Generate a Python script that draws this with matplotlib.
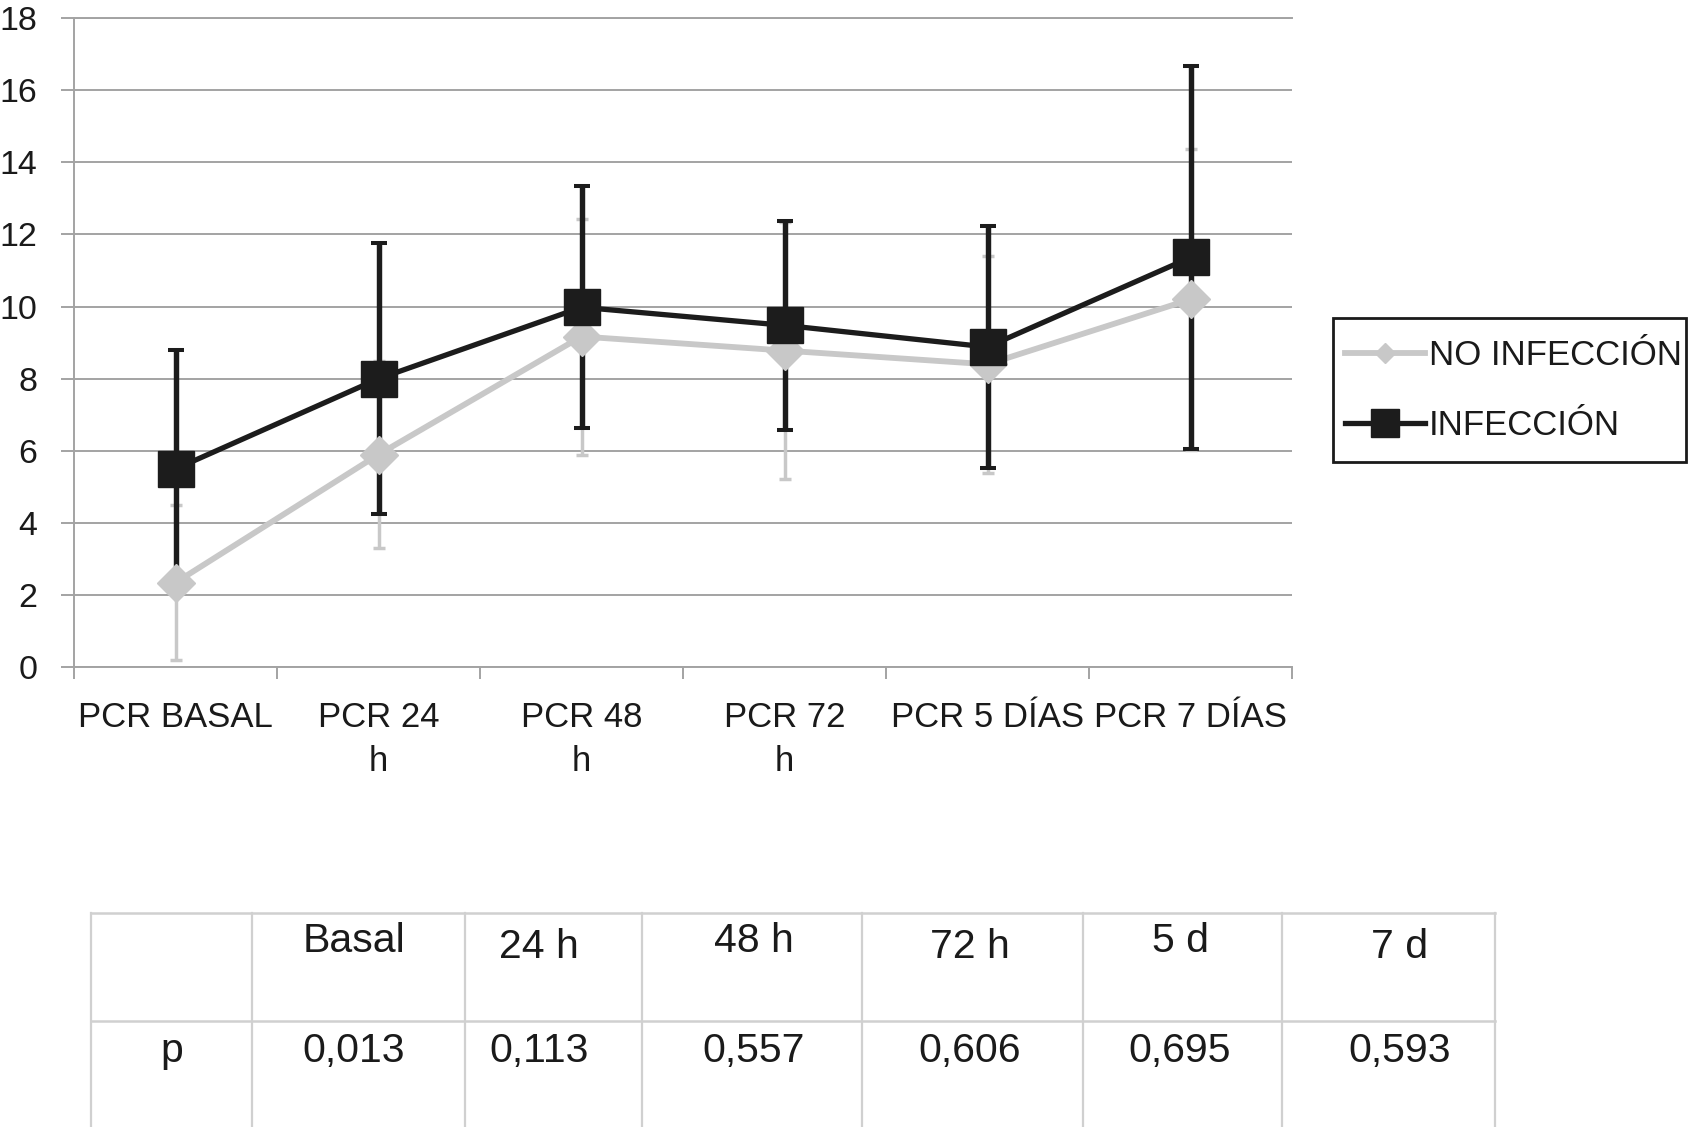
import matplotlib
matplotlib.use("Agg")
import matplotlib.pyplot as plt
from matplotlib.lines import Line2D
from matplotlib.patches import Rectangle

plt.rcParams['font.family'] = ['Liberation Sans', 'DejaVu Sans']

# datos del grafico
categorias = ["PCR BASAL", "PCR 24\nh", "PCR 48\nh", "PCR 72\nh", "PCR 5 DÍAS", "PCR 7 DÍAS"]
no_inf_media = [2.35, 5.9, 9.17, 8.78, 8.4, 10.2]
no_inf_de = [2.15, 2.6, 3.27, 3.55, 3.0, 4.18]
inf_media = [5.5, 8.0, 9.98, 9.48, 8.88, 11.36]
inf_de = [3.3, 3.75, 3.35, 2.9, 3.35, 5.3]

# tabla de p
tabla_cab = ["Basal", "24 h", "48 h", "72 h", "5 d", "7 d"]
tabla_p = ["0,013", "0,113", "0,557", "0,606", "0,695", "0,593"]

W, H = 1688, 1127
GRIS = '#c8c8c8'
NEGRO = '#1c1c1c'
REJILLA = '#a3a3a3'

fig = plt.figure(figsize=(W / 100, H / 100), dpi=100)
ax = fig.add_axes([74 / W, 1 - 667.4 / H, (1292 - 74) / W, (667.4 - 17.9) / H])

x = list(range(len(categorias)))

ax.errorbar(x, no_inf_media, yerr=no_inf_de, fmt='none', ecolor=GRIS,
            elinewidth=2.5, capsize=4.5, capthick=2.5, zorder=2)
ax.errorbar(x, inf_media, yerr=inf_de, fmt='none', ecolor=NEGRO,
            elinewidth=3.9, capsize=5.5, capthick=2.9, zorder=3)
ax.plot(x, no_inf_media, color=GRIS, lw=4.2, marker='D', ms=19.5, mec=GRIS, zorder=4)
ax.plot(x, inf_media, color=NEGRO, lw=3.8, marker='s', ms=26.5, mec=NEGRO, zorder=5)

ax.set_xlim(-0.5, len(categorias) - 0.5)
ax.set_ylim(0, 18)
ax.set_yticks(range(0, 19, 2))
ax.grid(axis='y', color=REJILLA, lw=1.4)
ax.set_axisbelow(True)

ax.spines['right'].set_visible(False)
for lado in ['left', 'bottom', 'top']:
    ax.spines[lado].set_color(REJILLA)
    ax.spines[lado].set_linewidth(1.4)

ax.set_xticks([i - 0.5 for i in range(len(categorias) + 1)])
ax.set_xticklabels([])
ax.set_xticks(x, minor=True)
ax.set_xticklabels(categorias, minor=True, fontsize=25, color='#1a1a1a')
ax.tick_params(axis='x', which='major', length=8.5, width=1.4, color=REJILLA)
ax.tick_params(axis='x', which='minor', length=0, pad=24)
ax.tick_params(axis='y', length=9.4, width=1.4, color=REJILLA, pad=17,
               labelsize=24.5, labelcolor='#1a1a1a')
for t in ax.get_xticklabels(minor=True):
    t.set_linespacing(1.45)

# leyenda (marco dibujado aparte)
h1 = Line2D([], [], color=GRIS, lw=4.2, marker='D', ms=10.5, mec=GRIS)
h2 = Line2D([], [], color=NEGRO, lw=3.8, marker='s', ms=20.5, mec=NEGRO)
leg = fig.legend([h1, h2], ['NO INFECCIÓN', 'INFECCIÓN'], loc='upper left',
                 bbox_to_anchor=(1345 / W, 1 - 339 / H), bbox_transform=fig.transFigure,
                 fontsize=25, frameon=False, borderpad=0, labelspacing=1.07,
                 handlelength=2.3, handletextpad=0.12, borderaxespad=0)
for t in leg.get_texts():
    t.set_color('#1a1a1a')
fig.patches.append(Rectangle((1333 / W, 1 - 462 / H), (1686 - 1333) / W, (462 - 318) / H,
                             transform=fig.transFigure, fill=False,
                             edgecolor='#1a1a1a', lw=2.0))

# tabla debajo
tb = fig.add_axes([0, 0, 1, 1], zorder=-1)
tb.set_xlim(0, W)
tb.set_ylim(H, 0)
tb.axis('off')
col_bordes = [91, 252, 465, 642, 862, 1083, 1282, 1495]
fila_bordes = [913, 1021, 1140]
texto_x = [354, 539, 754, 970, 1180, 1400]
cab_base = [952, 958, 952, 958, 952, 958]
p_base = 1062
for xb in col_bordes:
    tb.plot([xb, xb], [fila_bordes[0], fila_bordes[-1]], color='#d0d0d0', lw=1.6)
for yb in fila_bordes[:2]:
    tb.plot([col_bordes[0], col_bordes[-1]], [yb, yb], color='#d0d0d0', lw=1.8)

tb.text((col_bordes[0] + col_bordes[1]) / 2, p_base, "p", fontsize=29.5,
        ha='center', va='baseline', color='#1a1a1a')
for i in range(len(tabla_cab)):
    tb.text(texto_x[i], cab_base[i], tabla_cab[i], fontsize=29.5,
            ha='center', va='baseline', color='#1a1a1a')
    tb.text(texto_x[i], p_base, tabla_p[i], fontsize=29.5,
            ha='center', va='baseline', color='#1a1a1a')

fig.savefig("out.png", dpi=100)
